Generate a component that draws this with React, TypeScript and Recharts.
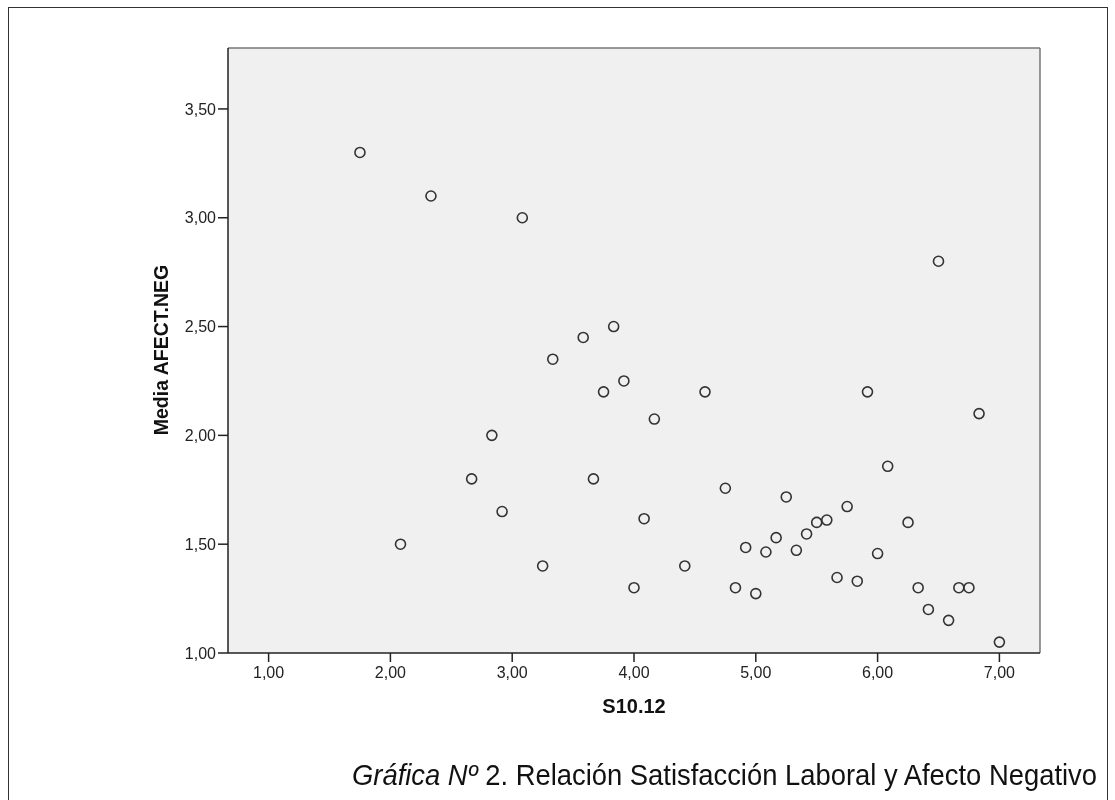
import React from "react";
import {
  ScatterChart,
  Scatter,
  XAxis,
  YAxis,
  CartesianGrid,
  ReferenceLine,
} from "recharts";

// S10.12 (satisfacción laboral) per respondent
const satisfaccion = [
  1.75, 2.333, 3.083, 3.833, 3.583, 3.333, 3.917, 3.75, 6.5, 4.583, 5.917,
  6.833, 4.167, 2.833, 2.667, 3.667, 2.917, 4.083, 2.083, 3.25, 4.0, 4.417,
  4.75, 4.917, 4.833, 5.0, 5.083, 5.167, 5.25, 5.333, 5.417, 5.5, 5.583,
  5.667, 5.75, 5.833, 6.0, 6.083, 6.25, 6.333, 6.417, 6.583, 6.667, 6.75, 7.0,
];

// Media AFECT.NEG per respondent
const afectoNeg = [
  3.3, 3.1, 3.0, 2.5, 2.45, 2.35, 2.25, 2.2, 2.8, 2.2, 2.2, 2.1, 2.075, 2.0,
  1.8, 1.8, 1.65, 1.617, 1.5, 1.4, 1.3, 1.4, 1.757, 1.485, 1.3, 1.273, 1.464,
  1.53, 1.717, 1.472, 1.547, 1.6, 1.611, 1.347, 1.673, 1.33, 1.457, 1.858, 1.6,
  1.3, 1.2, 1.15, 1.3, 1.3, 1.05,
];

const xTicks = [1, 2, 3, 4, 5, 6, 7];
const yTicks = [1, 1.5, 2, 2.5, 3, 3.5];
const xDomain = [2 / 3, 22 / 3];
const yDomain = [1, 3.78];

const points = satisfaccion.map((x, i) => ({ x, y: afectoNeg[i] }));

const fmt = (v: number) => v.toFixed(2).replace(".", ",");

const tickStyle = { fill: "#222", fontSize: 16, fontFamily: "Liberation Sans, Arial, sans-serif" };

function RingDot(props: any) {
  const { cx, cy } = props;
  if (cx == null || cy == null) return null;
  return <circle cx={cx} cy={cy} r={5} fill="none" stroke="#333" strokeWidth={1.6} />;
}

export default function App() {
  return (
    <div style={{ position: "relative", width: 1099, height: 784 }}>
      {/* outer figure frame */}
      <div
        style={{
          position: "fixed",
          left: 8,
          top: 7,
          width: 1100,
          height: 820,
          boxSizing: "border-box",
          border: "1px solid #333",
          pointerEvents: "none",
        }}
      />
      <div style={{ position: "absolute", left: 1, top: 0 }}>
        <ScatterChart
          width={1090}
          height={700}
          margin={{ top: 40, left: 159, right: 59, bottom: 25 }}
        >
          <CartesianGrid fill="#F0F0F0" horizontal={false} vertical={false} />
          <XAxis
            type="number"
            dataKey="x"
            domain={xDomain}
            ticks={xTicks}
            tickFormatter={fmt}
            allowDataOverflow
            height={30}
            tick={tickStyle}
            tickSize={9}
            tickMargin={5}
            axisLine={{ stroke: "#222", strokeWidth: 1.5 }}
            tickLine={{ stroke: "#222", strokeWidth: 1.5 }}
          />
          <YAxis
            type="number"
            dataKey="y"
            domain={yDomain}
            ticks={yTicks}
            tickFormatter={fmt}
            allowDataOverflow
            width={60}
            tick={tickStyle}
            tickSize={10}
            tickMargin={2}
            axisLine={{ stroke: "#222", strokeWidth: 1.5 }}
            tickLine={{ stroke: "#222", strokeWidth: 1.5 }}
          />
          <ReferenceLine y={yDomain[1]} stroke="#777" strokeWidth={1.5} />
          <ReferenceLine x={xDomain[1]} stroke="#777" strokeWidth={1.5} />
          <Scatter data={points} shape={<RingDot />} isAnimationActive={false} />
        </ScatterChart>
      </div>
      <svg
        width={1115}
        height={800}
        style={{ position: "absolute", left: -8, top: -8, pointerEvents: "none" }}
      >
        <text
          x={161}
          y={350}
          transform="rotate(-90 161 350)"
          textAnchor="middle"
          dominantBaseline="central"
          fontFamily="Liberation Sans, Arial, sans-serif"
          fontWeight="bold"
          fontSize={19.5}
          fill="#111"
        >
          Media AFECT.NEG
        </text>
        <text
          x={634}
          y={713}
          textAnchor="middle"
          fontFamily="Liberation Sans, Arial, sans-serif"
          fontWeight="bold"
          fontSize={20}
          fill="#111"
        >
          S10.12
        </text>
        <text
          x={0}
          y={0}
          transform="translate(352 785) scale(1 1.12)"
          textLength={745}
          lengthAdjust="spacingAndGlyphs"
          fontFamily="Liberation Sans Narrow, Arial Narrow, Liberation Sans, Arial, sans-serif"
          fontSize={26}
          fill="#111"
        >
          <tspan fontStyle="italic">Gráfica Nº</tspan> 2. Relación Satisfacción Laboral y Afecto Negativo
        </text>
      </svg>
    </div>
  );
}
